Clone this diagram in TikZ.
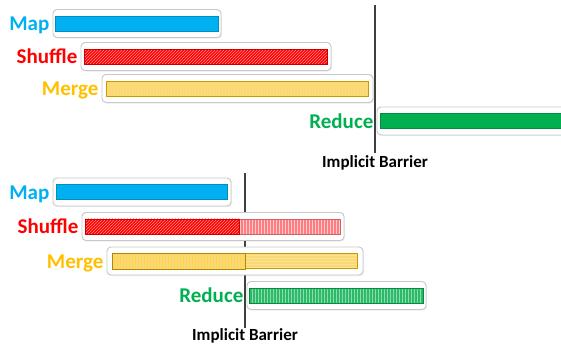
\documentclass[tikz,border=0pt]{standalone}
\usepackage{fontspec}
\setmainfont{Carlito}
\usetikzlibrary{positioning,patterns,shadows}
\definecolor{mapblue}{HTML}{00B0F0}
\definecolor{shufred}{HTML}{FF0000}
\definecolor{shufpink}{HTML}{FF7C80}
\definecolor{mergeyellow}{HTML}{FFC000}
\definecolor{mergefill}{HTML}{F9D878}
\definecolor{reducegreen}{HTML}{00B050}
\definecolor{reducelight}{HTML}{2DBA68}
\definecolor{barriergray}{HTML}{404040}
\tikzset{
	box/.style = {draw=black!22, fill=white, rounded corners=4pt,
		line width=0.9pt, inner sep=0pt, minimum height=28pt,
		drop shadow={opacity=0.15, shadow xshift=1pt, shadow yshift=-1pt}},
	bar/.style = {draw=#1!80!black, line width=0.5pt, inner sep=0pt,
		minimum height=15pt},
	phase/.style = {font=\fontsize{21}{25}\selectfont\bfseries, inner sep=0pt,
		text height=18.8pt, text depth=4pt},
	barrierlabel/.style = {font=\fontsize{17}{20}\selectfont\bfseries, inner sep=0pt},
	barrierline/.style = {draw=barriergray, line width=1.4pt},
}

\begin{document}
\begin{tikzpicture}[x=1pt, y=-1pt]
	\useasboundingbox (0,0) rectangle (561,346);
	\clip (0,0) rectangle (561,346);
	%Barriers
	\coordinate (lineA) at (375,5);
	\coordinate (lineAend) at (375,153);
	\coordinate (lineB) at (245,173);
	\coordinate (lineBend) at (245,328);
	\draw[barrierline] (lineA) -- (lineAend);
	\draw[barrierline] (lineB) -- (lineBend);
	\node[barrierlabel, below=2pt of lineAend] (barrierA) {Implicit Barrier};
	\node[barrierlabel, below=0pt of lineBend] (barrierB) {Implicit Barrier};
	%Nodes (sequential)
	\node[box, minimum width=168pt] (mapA) at (137,23.5) {};
	\node[bar=mapblue, fill=mapblue, minimum width=163pt] (mapbarA) at (mapA) {};
	\node[phase, text=mapblue, left=3pt of mapA] (maplabA) {Map};
	\node[box, minimum width=250pt] (shufA) at (206,56.5) {};
	\node[bar=shufred, preaction={fill=shufred}, pattern=north east lines,
		pattern color=red!45!white, minimum width=243pt] (shufbarA) at (shufA) {};
	\node[phase, text=shufred, left=3pt of shufA] (shuflabA) {Shuffle};
	\node[box, minimum width=271pt] (mergeA) at (237.5,88.5) {};
	\node[bar=mergeyellow, preaction={fill=mergefill}, pattern=vertical lines,
		pattern color=mergeyellow!55!white, minimum width=262pt] (mergebarA) at (mergeA) {};
	\node[phase, text=mergeyellow, left=3pt of mergeA] (mergelabA) {Merge};
	\node[box, minimum width=230pt] (reduceA) at (492,121) {};
	\node[bar=reducegreen, fill=reducegreen, minimum width=223pt] (reducebarA) at (reduceA) {};
	\node[phase, text=reducegreen, left=3pt of reduceA] (reducelabA) {Reduce};
	%Nodes (pipelined)
	\node[box, minimum width=178pt] (mapB) at (142,192) {};
	\node[bar=mapblue, fill=mapblue, minimum width=171pt] (mapbarB) at (mapB) {};
	\node[phase, text=mapblue, left=3pt of mapB] (maplabB) {Map};
	\node[box, minimum width=262pt] (shufB) at (213,226.5) {};
	\node[bar=shufpink, preaction={fill=shufpink}, pattern=vertical lines,
		pattern color=red!20!white, minimum width=255pt] (shufbarB) at (shufB) {};
	\path[draw=shufred!80!black, line width=0.5pt, preaction={fill=shufred},
		pattern=north east lines, pattern color=red!45!white]
		(shufbarB.north west) rectangle ([xshift=-6pt]shufbarB.south -| lineB);
	\node[phase, text=shufred, left=3pt of shufB] (shuflabB) {Shuffle};
	\node[box, minimum width=256pt] (mergeB) at (235,261) {};
	\node[bar=mergeyellow, preaction={fill=mergefill}, pattern=horizontal lines,
		pattern color=mergeyellow!45!white, minimum width=245pt] (mergebarB) at (mergeB) {};
	\path[draw=mergeyellow!70!black, line width=0.5pt, preaction={fill=mergefill},
		pattern=vertical lines, pattern color=mergeyellow!70!white]
		(mergebarB.north west) rectangle (mergebarB.south -| lineB);
	\node[phase, text=mergeyellow, left=3pt of mergeB] (mergelabB) {Merge};
	\node[box, minimum width=179pt] (reduceB) at (336.5,295.5) {};
	\node[bar=reducegreen, preaction={fill=reducelight}, pattern=vertical lines,
		pattern color=reducegreen!45!white, minimum width=174pt] (reducebarB) at (reduceB) {};
	\node[phase, text=reducegreen, left=3pt of reduceB] (reducelabB) {Reduce};
\end{tikzpicture}
\end{document}
